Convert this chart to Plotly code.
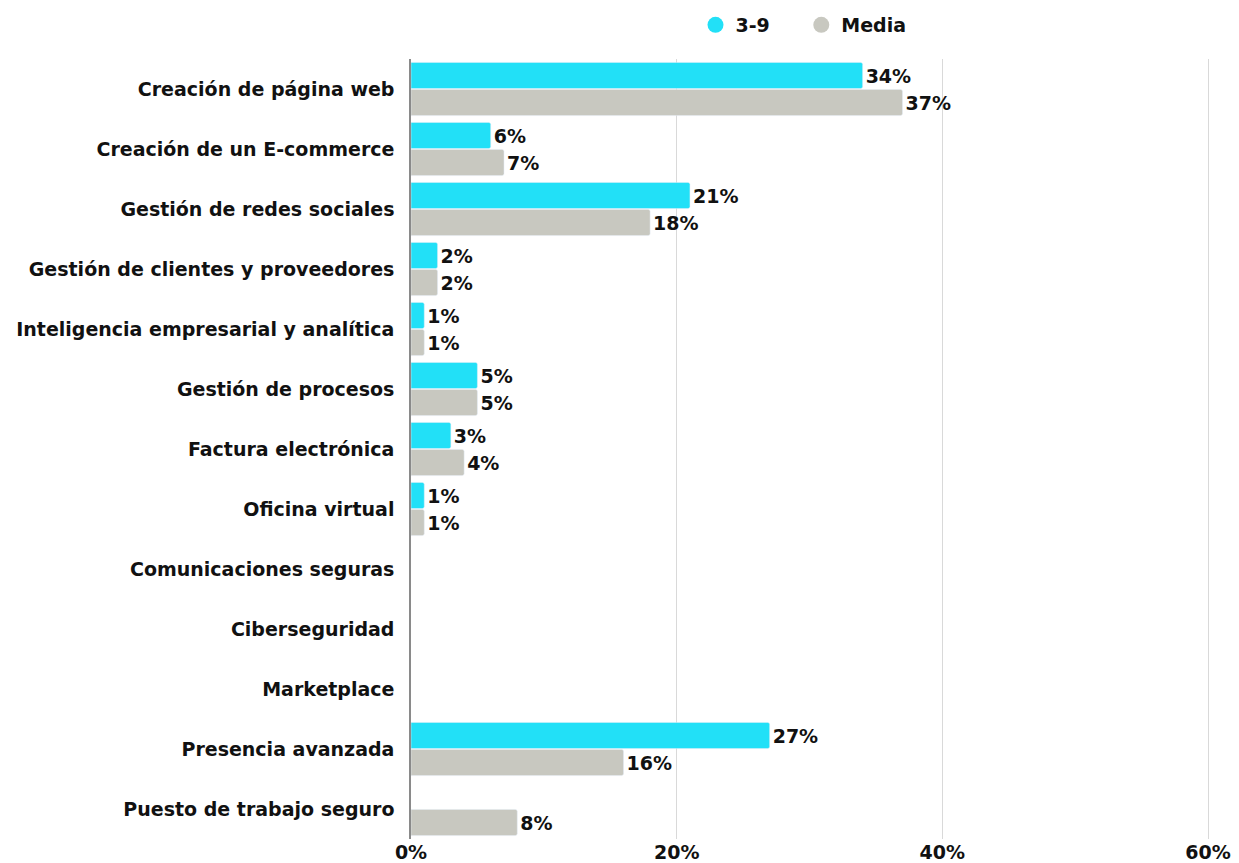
import plotly.graph_objects as go

categories = [
    "Creación de página web",
    "Creación de un E-commerce",
    "Gestión de redes sociales",
    "Gestión de clientes y proveedores",
    "Inteligencia empresarial y analítica",
    "Gestión de procesos",
    "Factura electrónica",
    "Oficina virtual",
    "Comunicaciones seguras",
    "Ciberseguridad",
    "Marketplace",
    "Presencia avanzada",
    "Puesto de trabajo seguro",
]
serie_39 = [34, 6, 21, 2, 1, 5, 3, 1, None, None, None, 27, None]
serie_media = [37, 7, 18, 2, 1, 5, 4, 1, None, None, None, 16, 8]
x_ticks = [0, 20, 40, 60]
x_tick_labels = ["0%", "20%", "40%", "60%"]

CYAN = "#22e0f7"
GREY = "#c8c8c0"
FONT = "DejaVu Sans"
FW = "bold"
SZ = 19

def labels(vals):
    return [f"{v}%" if v is not None else "" for v in vals]

fig = go.Figure()
fig.add_trace(go.Bar(
    y=categories, x=serie_39, orientation="h", name="3-9",
    marker=dict(color=CYAN), text=labels(serie_39), textposition="outside",
    textfont=dict(family=FONT, size=SZ, color="#111", weight=FW),
    cliponaxis=False, showlegend=False,
))
fig.add_trace(go.Bar(
    y=categories, x=serie_media, orientation="h", name="Media",
    marker=dict(color=GREY), text=labels(serie_media), textposition="outside",
    textfont=dict(family=FONT, size=SZ, color="#111", weight=FW),
    cliponaxis=False, showlegend=False,
))
legend_names = ["3-9" + "\u00a0" * 4, "Media"]
for name, col in zip(legend_names, [CYAN, GREY]):
    fig.add_trace(go.Scatter(
        x=[None], y=[None], mode="markers", name=name,
        marker=dict(symbol="circle", size=21, color=col),
    ))

fig.update_layout(
    width=1231, height=855,
    margin=dict(l=403, r=27, t=51, b=24, autoexpand=False),
    paper_bgcolor="white", plot_bgcolor="white",
    barmode="group", bargap=0.1, bargroupgap=0.03,
    barcornerradius=2,
    font=dict(family=FONT, size=SZ, color="#111"),
    legend=dict(orientation="h", x=0.49, xanchor="center", y=1.0436, yanchor="middle",
                font=dict(family=FONT, size=SZ, color="#111", weight=FW),
                itemwidth=30, tracegroupgap=0),
    xaxis=dict(range=[0, 60.3], tickvals=x_ticks, ticktext=x_tick_labels,
               showgrid=True, gridcolor="#d9d9d9", gridwidth=1,
               zeroline=False, showline=False, ticks="", automargin=False,
               tickfont=dict(family=FONT, size=SZ, color="#111", weight=FW),
               fixedrange=True),
    yaxis=dict(autorange="reversed", showgrid=False, ticks="", ticklen=0,
               showline=True, linecolor="#8a8a8a", linewidth=1.5, automargin=False,
               ticklabelstandoff=11,
               tickfont=dict(family=FONT, size=SZ, color="#111", weight=FW),
               fixedrange=True),
)

fig.write_html("out.html")
